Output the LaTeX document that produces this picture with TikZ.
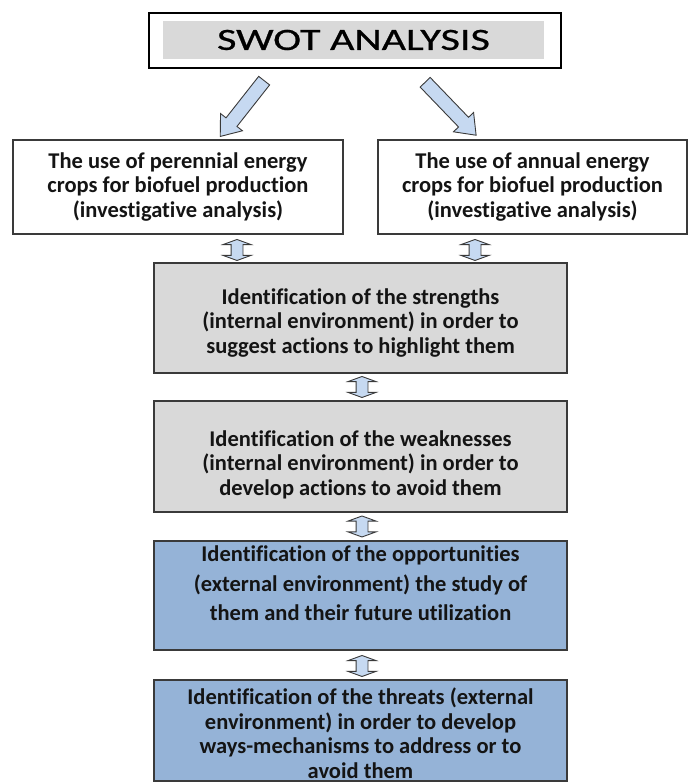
\documentclass[tikz,border=0pt]{standalone}
\usepackage{fontspec}
\setmainfont{Carlito}[Ligatures=NoCommon]
\usetikzlibrary{shapes.arrows,calc}
\definecolor{boxgray}{HTML}{D9D9D9}
\definecolor{boxblue}{HTML}{95B3D7}
\definecolor{arrowblue}{HTML}{C6D9F1}
\definecolor{edgecol}{HTML}{3A3A3A}
\begin{document}
\begin{tikzpicture}[x=1pt,y=1pt,
  box/.style={draw=edgecol, line width=1.6pt, align=center, inner sep=0pt,
    text=black!92, font=\bfseries\fontsize{22.5}{24.5}\selectfont},
  graybox/.style={box, fill=boxgray, minimum width=413pt},
  bluebox/.style={box, fill=boxblue, minimum width=413pt},
  sarrow/.style={single arrow, draw=edgecol, fill=arrowblue, line width=0.9pt,
    inner xsep=0pt, inner ysep=6.5pt, single arrow head extend=7pt,
    single arrow tip angle=75},
  darrow/.style={double arrow, draw=edgecol, fill=arrowblue, line width=0.9pt,
    inner xsep=0pt, inner ysep=5.5pt, double arrow head extend=8pt,
    double arrow tip angle=140, minimum height=21pt, rotate=90}
]
\useasboundingbox (0,0) rectangle (696,783);

% title
\node[draw=black, line width=1.6pt, minimum width=412pt, minimum height=55pt, inner sep=0pt]
  (title) at (355,742.5) {};
\node[fill=boxgray, minimum width=381pt, minimum height=38pt, inner sep=0pt,
  font=\fontsize{31}{31}\selectfont\addfontfeatures{FakeBold=0.6}, text=black] (titletext) at (353.5,743)
  {\scalebox{1.36}[1]{SWOT ANALYSIS}};

% two top boxes
\node[box, minimum width=330pt, minimum height=94pt] (b1) at (178,596)
  {The use of perennial energy\\crops for biofuel production\\(investigative analysis)};
\node[box, minimum width=309pt, minimum height=94pt] (b2) at (532.5,596)
  {The use of annual energy\\crops for biofuel production\\(investigative analysis)};

% diagonal arrows
\node[sarrow, minimum height=71pt, rotate=231.8] (al) at (245,678) {};
\node[sarrow, minimum height=73.5pt, rotate=-46.1] (ar) at (447.5,677.5) {};

% SWOT boxes
\node[graybox, minimum height=110pt] (s) at (360.5,465)
  {\mbox{}\\[0.5pt]Identification of the strengths\\(internal environment) in order to\\suggest actions to highlight them};
\node[graybox, minimum height=111pt] (w) at (360.5,326.5)
  {\mbox{}\\[7.5pt]Identification of the weaknesses\\(internal environment) in order to\\develop actions to avoid them};
\node[bluebox, minimum height=109pt, font=\bfseries\fontsize{22.5}{29.5}\selectfont] (o) at (360.5,187.5)
  {Identification of the opportunities\\(external environment) the study of\\them and their future utilization\\[-5pt]\mbox{}};
\node[bluebox, minimum height=101pt] (t) at (360.5,52.5)
  {\mbox{}\\[-2.5pt]Identification of the threats (external\\environment) in order to develop\\ways-mechanisms to address or to\\avoid them};

% double arrows between boxes
\node[darrow] (d1) at (237,533) {};
\node[darrow] (d2) at (475,533) {};
\node[darrow] (d3) at (362,396) {};
\node[darrow] (d4) at (362,256.5) {};
\node[darrow] (d5) at (362,117) {};
\end{tikzpicture}
\end{document}
